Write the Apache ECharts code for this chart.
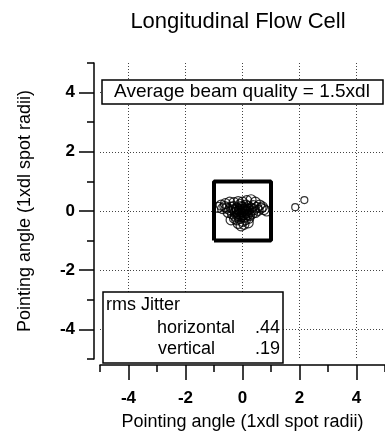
<!DOCTYPE html>
<html>
<head>
<meta charset="utf-8">
<script src="https://cdn.jsdelivr.net/npm/echarts@6/dist/echarts.min.js"></script>
<style>
  html, body { margin: 0; padding: 0; background: #fff; }
  #main { width: 385px; height: 436px; }
</style>
</head>
<body>
<div id="main"></div>
<script>
  // beam pointing samples (x, y) in 1xdl spot radii
  var clusterPoints = [
    [-0.75, 0.2], [-0.6, 0.25], [-0.45, 0.3], [-0.3, 0.28], [-0.15, 0.32], [0.0, 0.3],
    [0.15, 0.35], [0.3, 0.38], [0.45, 0.3], [0.6, 0.2], [0.75, 0.05], [0.85, 0.0],
    [-0.85, 0.12], [-0.7, 0.08], [-0.55, 0.1], [-0.4, 0.12], [-0.3, 0.05], [-0.2, 0.1],
    [-0.1, 0.05], [0.0, 0.12], [0.1, 0.08], [0.2, 0.15], [0.3, 0.1], [0.4, 0.05],
    [0.5, 0.12], [0.65, 0.1],
    [-0.5, -0.05], [-0.35, -0.1], [-0.25, -0.05], [-0.15, -0.15], [-0.05, -0.08],
    [0.05, -0.12], [0.15, -0.05], [0.25, -0.15], [0.35, -0.08], [0.45, -0.05],
    [-0.4, -0.3], [-0.2, -0.3], [-0.1, -0.25], [0.0, -0.35], [0.1, -0.3], [0.2, -0.4],
    [-0.05, -0.5], [0.05, -0.45], [-0.15, -0.42],
    [-0.1, 0.0], [0.0, -0.02], [0.05, 0.02], [0.1, -0.02], [-0.05, 0.15], [0.15, 0.0],
    [-0.2, -0.02], [0.2, 0.05],
    [-0.12, -0.1], [-0.02, -0.18], [0.08, -0.2], [0.18, -0.12], [-0.25, -0.18],
    [0.28, -0.02], [-0.32, 0.15], [0.12, 0.2], [-0.08, 0.22], [0.02, 0.06],
    [-0.18, 0.06], [0.22, -0.25], [-0.28, -0.25], [0.38, 0.18], [-0.45, 0.05],
    [0.55, 0.02], [-0.62, 0.15], [0.7, 0.14]
  ];
  var outlierPoints = [[1.85, 0.13], [2.17, 0.37]];
  // 1xdl reference square
  var squareCorners = [[-1, -1], [1, -1], [1, 1], [-1, 1], [-1, -1]];

  var majorTicks = [-4, -2, 0, 2, 4];
  var minorTicks = [-5, -3, -1, 1, 3, 5];

  var titleText = 'Longitudinal Flow Cell';
  var axisTitle = 'Pointing angle (1xdl spot radii)';
  var qualityText = 'Average beam quality = 1.5xdl';
  var jitterLabels = ['horizontal', 'vertical'];
  var jitterValues = ['.44', '.19'];

  var font = 'Liberation Sans, Arial, sans-serif';
  var gridLine = { show: true, lineStyle: { color: '#444', type: [1, 2], width: 1 } };

  function majorAxis(dim) {
    return {
      type: 'value', min: -5, max: 5, interval: 1,
      position: dim === 'x' ? 'bottom' : 'left',
      offset: 6,
      axisLine: { show: true, onZero: false, lineStyle: { color: '#000', width: 1.5 } },
      axisTick: { show: true, customValues: majorTicks, length: 15, lineStyle: { color: '#000', width: 1.5 } },
      axisLabel: {
        customValues: majorTicks, color: '#000', fontFamily: font, fontSize: 17, fontWeight: 'bold',
        margin: dim === 'x' ? 25 : 19
      },
      splitLine: gridLine,
      name: axisTitle, nameLocation: 'middle', nameGap: dim === 'x' ? 48 : 60,
      nameTextStyle: { color: '#000', fontFamily: font, fontSize: 18 }
    };
  }
  function minorAxis(dim) {
    return {
      type: 'value', min: -5, max: 5, interval: 1,
      position: dim === 'x' ? 'bottom' : 'left',
      offset: 6,
      axisLine: { show: false, onZero: false },
      axisTick: { show: true, customValues: minorTicks, length: 7, lineStyle: { color: '#000', width: 1.5 } },
      axisLabel: { show: false },
      splitLine: { show: false }
    };
  }

  function boxText(x, y, text, align) {
    return {
      type: 'text', x: x, y: y, z: 101,
      style: { text: text, fill: '#000', font: '18px ' + font, textVerticalAlign: 'middle', textAlign: align || 'left' }
    };
  }

  var myChart = echarts.init(document.getElementById('main'));
  myChart.setOption({
    animation: false,
    backgroundColor: '#fff',
    title: {
      text: titleText, left: 233, textAlign: 'center', top: 6,
      textStyle: { color: '#000', fontFamily: font, fontSize: 22, fontWeight: 'normal' }
    },
    grid: { left: 100, right: -1, top: 63, bottom: 73, containLabel: false },
    xAxis: [majorAxis('x'), minorAxis('x')],
    yAxis: [majorAxis('y'), minorAxis('y')],
    series: [
      {
        type: 'line', data: squareCorners, symbol: 'none', z: 3,
        lineStyle: { color: '#000', width: 4 }
      },
      {
        type: 'scatter', data: clusterPoints, symbol: 'circle', symbolSize: 10, z: 4,
        itemStyle: { color: 'rgba(0,0,0,0)', borderColor: '#000', borderWidth: 1.2 }
      },
      {
        type: 'scatter', data: outlierPoints, symbol: 'circle', symbolSize: 7, z: 4,
        itemStyle: { color: 'rgba(0,0,0,0)', borderColor: '#000', borderWidth: 1.2 }
      }
    ],
    graphic: [
      { type: 'rect', z: 100, shape: { x: 102, y: 80, width: 281, height: 24 },
        style: { fill: '#fff', stroke: '#000', lineWidth: 1.5 } },
      {
        type: 'text', x: 242, y: 92, z: 101,
        style: { text: qualityText, fill: '#000', font: '19px ' + font, textVerticalAlign: 'middle', textAlign: 'center' }
      },
      { type: 'rect', z: 100, shape: { x: 103, y: 292, width: 180, height: 71 },
        style: { fill: '#fff', stroke: '#000', lineWidth: 1.5 } },
      boxText(106, 305, 'rms Jitter'),
      boxText(157, 328, jitterLabels[0]),
      boxText(280, 328, jitterValues[0], 'right'),
      boxText(158, 349, jitterLabels[1]),
      boxText(280, 349, jitterValues[1], 'right')
    ]
  });
</script>
</body>
</html>
